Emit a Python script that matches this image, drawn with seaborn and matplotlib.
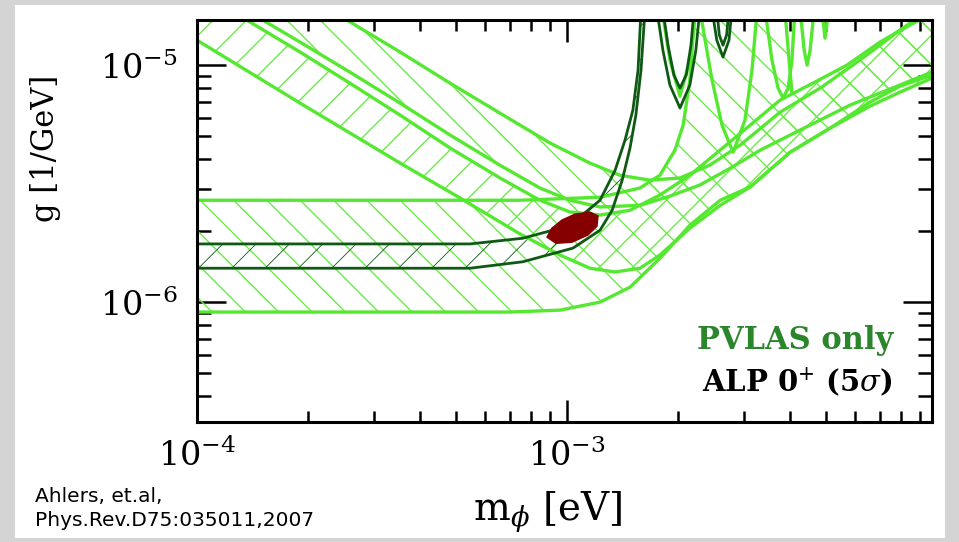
import numpy as np
import pandas as pd
import matplotlib
matplotlib.use("Agg")
import matplotlib.pyplot as plt
import seaborn as sns
from matplotlib.patches import Rectangle
from matplotlib.ticker import NullFormatter, LogLocator

# ---------------- data (m in eV, g in 1/GeV) ----------------
# rotation band (hatched "\")
rot_lo_m = [1.0e-4, 7.01e-4, 9.57e-4, 1.228e-3, 1.48e-3, 1.783e-3, 2.148e-3, 2.594e-3,
            3.126e-3, 4.01e-3, 5.14e-3, 6.59e-3, 7.94e-3, 9.69e-3]
rot_lo_g = [9.08e-7, 9.08e-7, 9.25e-7, 1.0e-6, 1.156e-6, 1.53e-6, 2.11e-6, 2.69e-6,
            3.06e-6, 4.29e-6, 5.42e-6, 6.98e-6, 8.15e-6, 9.08e-6]
rot_up_m = [1.0e-4, 7.46e-4, 1.228e-3, 1.575e-3, 1.783e-3, 1.958e-3, 2.06e-3, 2.148e-3, 2.218e-3]
rot_up_g = [2.69e-6, 2.69e-6, 2.77e-6, 3.03e-6, 3.43e-6, 4.38e-6, 5.58e-6, 8.65e-6, 1.7e-5]
rot_hi_m = [3.88e-3, 4.055e-3]
rot_hi_g = [1.7e-5, 7.6e-6]

# ellipticity band (hatched "/")
ell_lo_m = [1.0e-4, 1.90e-4, 3.54e-4, 5.14e-4, 7.46e-4, 9.57e-4, 1.153e-3, 1.349e-3, 1.575e-3,
            1.783e-3, 2.148e-3, 2.594e-3, 3.126e-3, 4.01e-3, 5.14e-3, 6.59e-3, 7.94e-3, 9.69e-3]
ell_lo_g = [1.274e-5, 6.91e-6, 3.86e-6, 2.75e-6, 1.94e-6, 1.58e-6, 1.39e-6, 1.34e-6, 1.39e-6,
            1.58e-6, 2.05e-6, 2.56e-6, 3.06e-6, 4.29e-6, 5.42e-6, 6.71e-6, 7.69e-6, 8.81e-6]
ell_up_m = [1.0e-4, 1.90e-4, 2.59e-4, 3.54e-4, 4.83e-4, 6.59e-4, 8.45e-4, 1.019e-3, 1.228e-3,
            1.48e-3, 1.783e-3, 2.148e-3, 2.594e-3, 3.126e-3, 3.767e-3, 4.68e-3, 5.71e-3,
            7.01e-3, 7.80e-3, 9.69e-3]
ell_up_g = [2.07e-5, 1.135e-5, 8.39e-6, 6.15e-6, 4.47e-6, 3.34e-6, 2.69e-6, 2.40e-6, 2.33e-6,
            2.44e-6, 2.83e-6, 3.43e-6, 4.38e-6, 5.58e-6, 7.12e-6, 8.48e-6, 1.0e-5,
            1.25e-5, 1.377e-5, 1.66e-5]

# second diagonal band (hatched "\")
b3_lo_m = [1.0e-4, 1.90e-4, 2.59e-4, 3.54e-4, 4.83e-4, 6.59e-4, 8.45e-4, 1.019e-3, 1.228e-3,
           1.575e-3, 1.897e-3, 2.286e-3, 2.76e-3, 3.33e-3, 4.266e-3, 5.82e-3, 7.94e-3, 9.69e-3]
b3_lo_g = [2.26e-5, 1.25e-5, 9.34e-6, 6.91e-6, 5.07e-6, 3.78e-6, 3.03e-6, 2.69e-6, 2.52e-6,
           2.56e-6, 2.80e-6, 3.12e-6, 3.67e-6, 4.38e-6, 5.32e-6, 6.78e-6, 8.24e-6, 9.34e-6]
b3_up_m = [1.0e-4, 3.54e-4, 4.83e-4, 6.59e-4, 9.0e-4, 1.153e-3, 1.39e-3, 1.675e-3, 2.02e-3,
           2.43e-3, 2.94e-3, 3.767e-3, 4.83e-3, 6.19e-3, 7.94e-3, 9.69e-3]
b3_up_g = [3.72e-5, 1.135e-5, 8.39e-6, 6.27e-6, 4.69e-6, 3.86e-6, 3.43e-6, 3.27e-6, 3.34e-6,
           3.78e-6, 4.6e-6, 6.33e-6, 7.99e-6, 1.05e-5, 1.405e-5, 1.74e-5]

# light green resonance dips
dip1_m = [2.286e-3, 2.466e-3, 2.624e-3, 2.81e-3, 3.027e-3, 3.162e-3, 3.265e-3]
dip1_g = [1.71e-5, 8.65e-6, 5.58e-6, 4.29e-6, 5.86e-6, 9.52e-6, 1.71e-5]
dip2_m = [3.43e-3, 3.58e-3, 3.72e-3, 3.837e-3, 3.96e-3, 4.055e-3, 4.13e-3]
dip2_g = [1.71e-5, 1.05e-5, 7.99e-6, 7.26e-6, 7.99e-6, 1.05e-5, 1.71e-5]
dip3_m = [4.266e-3, 4.375e-3, 4.455e-3, 4.54e-3, 4.655e-3]
dip3_g = [1.71e-5, 1.157e-5, 1.0e-5, 1.157e-5, 1.71e-5]
dip4_m = [4.89e-3, 4.98e-3, 5.1e-3]
dip4_g = [1.71e-5, 1.30e-5, 1.71e-5]
dip0_m = [1.807e-3, 1.897e-3, 2.02e-3, 2.148e-3, 2.23e-3]
dip0_g = [1.71e-5, 1.05e-5, 7.40e-6, 1.05e-5, 1.71e-5]

# ALP 0+ (5 sigma) band (dark green)
alp_up_m = [1.0e-4, 5.47e-4, 7.60e-4, 9.57e-4, 1.084e-3, 1.228e-3, 1.349e-3, 1.435e-3,
            1.507e-3, 1.556e-3, 1.585e-3]
alp_up_g = [1.76e-6, 1.76e-6, 1.86e-6, 2.05e-6, 2.29e-6, 2.69e-6, 3.60e-6, 4.83e-6,
            6.46e-6, 9.52e-6, 1.71e-5]
alp_lo_m = [1.0e-4, 5.47e-4, 7.60e-4, 1.038e-3, 1.228e-3, 1.324e-3, 1.41e-3, 1.48e-3,
            1.535e-3, 1.585e-3, 1.625e-3]
alp_lo_g = [1.39e-6, 1.39e-6, 1.48e-6, 1.69e-6, 2.01e-6, 2.44e-6, 3.27e-6, 4.47e-6,
            6.15e-6, 9.52e-6, 1.71e-5]
adip1o_m = [1.75e-3, 1.816e-3, 1.897e-3, 2.02e-3, 2.148e-3, 2.23e-3, 2.286e-3]
adip1o_g = [1.71e-5, 1.157e-5, 8.24e-6, 6.59e-6, 8.24e-6, 1.157e-5, 1.71e-5]
adip1i_m = [1.816e-3, 1.875e-3, 1.945e-3, 2.02e-3, 2.10e-3, 2.163e-3, 2.204e-3]
adip1i_g = [1.71e-5, 1.213e-5, 9.08e-6, 7.99e-6, 9.08e-6, 1.213e-5, 1.71e-5]
adip2o_m = [2.466e-3, 2.54e-3, 2.64e-3, 2.74e-3, 2.79e-3]
adip2o_g = [1.71e-5, 1.274e-5, 1.081e-5, 1.274e-5, 1.71e-5]
adip2i_m = [2.54e-3, 2.58e-3, 2.64e-3, 2.70e-3, 2.74e-3]
adip2i_g = [1.71e-5, 1.34e-5, 1.213e-5, 1.34e-5, 1.71e-5]

# best fit region (red)
best_m = [8.83e-4, 9.10e-4, 9.69e-4, 1.05e-3, 1.153e-3, 1.213e-3, 1.205e-3, 1.14e-3, 1.032e-3, 9.34e-4]
best_g = [1.88e-6, 2.05e-6, 2.22e-6, 2.35e-6, 2.40e-6, 2.31e-6, 2.09e-6, 1.92e-6, 1.79e-6, 1.77e-6]

x_range = [1.0e-4, 9.69e-3]
y_range = [3.12e-7, 1.55e-5]

# ---------------- style ----------------
sns.set_theme(style="white")
plt.rcParams["font.family"] = ["DejaVu Serif", "DejaVu Sans"]
plt.rcParams["mathtext.fontset"] = "dejavuserif"
plt.rcParams["text.color"] = "black"

LG = "#55e830"
LGH = "#6aec48"
DG = "#0e5a14"
RED = "#860000"
PVG = "#2b862b"

fig = plt.figure(figsize=(9.59, 5.42), dpi=100)
fig.patch.set_facecolor("#d4d4d4")
bg = Rectangle((0.0156, 0.0074), 0.970, 0.983, transform=fig.transFigure,
               facecolor="white", edgecolor="none", zorder=-10)
fig.patches.append(bg)
ax = fig.add_axes([0.2054, 0.2214, 0.7664, 0.7417])
ax.set_zorder(1)
ax.set_facecolor("white")
ax.set_xscale("log")
ax.set_yscale("log")


def hatch_poly(xl, yl, xu, yu, hatch, color, hlw):
    plt.rcParams["hatch.linewidth"] = hlw
    plt.rcParams["hatch.color"] = color
    xs = np.concatenate([np.asarray(xl), np.asarray(xu)[::-1]])
    ys = np.concatenate([np.asarray(yl), np.asarray(yu)[::-1]])
    p = ax.fill(xs, ys, facecolor="none", edgecolor=color, hatch=hatch, linewidth=0, zorder=1)[0]
    if hasattr(p, "set_hatch_linewidth"):
        p.set_hatch_linewidth(hlw)
    return p


def line(xv, yv, color, lw, z=3):
    df = pd.DataFrame({"m": xv, "g": yv})
    sns.lineplot(data=df, x="m", y="g", ax=ax, color=color, linewidth=lw,
                 estimator=None, sort=False, legend=False, zorder=z)


# hatched regions
rot_upper_m = rot_up_m + rot_hi_m + [m for m in ell_up_m if m > 4.1e-3]
rot_upper_g = rot_up_g + rot_hi_g + [g for m, g in zip(ell_up_m, ell_up_g) if m > 4.1e-3]
hatch_poly(rot_lo_m, rot_lo_g, rot_upper_m, rot_upper_g, "\\", LGH, 1.0)
hatch_poly(ell_lo_m, ell_lo_g, ell_up_m, ell_up_g, "/", LGH, 1.0)
hatch_poly(b3_lo_m, b3_lo_g, b3_up_m, b3_up_g, "\\", LGH, 1.0)
hatch_poly(alp_lo_m, alp_lo_g, alp_up_m, alp_up_g, "/", DG, 0.6)

# light green boundaries
for xv, yv in [(rot_lo_m, rot_lo_g), (rot_up_m, rot_up_g), (rot_hi_m, rot_hi_g),
               (ell_lo_m, ell_lo_g), (ell_up_m, ell_up_g),
               (b3_lo_m, b3_lo_g), (b3_up_m, b3_up_g),
               (dip0_m, dip0_g), (dip1_m, dip1_g), (dip2_m, dip2_g),
               (dip3_m, dip3_g), (dip4_m, dip4_g)]:
    line(xv, yv, LG, 2.4, 3)

# dark green ALP lines
for xv, yv in [(alp_up_m, alp_up_g), (alp_lo_m, alp_lo_g),
               (adip1o_m, adip1o_g), (adip1i_m, adip1i_g),
               (adip2o_m, adip2o_g), (adip2i_m, adip2i_g)]:
    line(xv, yv, DG, 2.0, 4)

ax.fill(best_m, best_g, facecolor=RED, edgecolor=RED, linewidth=1, zorder=5)

ax.set_xlim(*x_range)
ax.set_ylim(*y_range)
ax.set_xlabel("")
ax.set_ylabel("")

# axes decoration
for s in ax.spines.values():
    s.set_visible(True)
    s.set_linewidth(2.2)
    s.set_color("black")
    s.set_zorder(10)
ax.xaxis.set_major_locator(LogLocator(base=10))
ax.yaxis.set_major_locator(LogLocator(base=10))
ax.xaxis.set_minor_locator(LogLocator(base=10, subs=np.arange(2, 10)))
ax.yaxis.set_minor_locator(LogLocator(base=10, subs=np.arange(2, 10)))
ax.xaxis.set_minor_formatter(NullFormatter())
ax.yaxis.set_minor_formatter(NullFormatter())
ax.tick_params(which="both", direction="in", top=True, right=True, bottom=True, left=True,
               color="black", width=1.8, labelsize=24, labelcolor="black")
ax.tick_params(axis="x", which="major", length=16, pad=12)
ax.tick_params(axis="x", which="minor", length=8)
ax.tick_params(axis="y", which="major", length=21, pad=14)
ax.tick_params(axis="y", which="minor", length=10)
ax.grid(False)

# texts
fig.text(548 / 959, 1 - 512 / 542, r"m$_\phi$ [eV]", ha="center", va="center", fontsize=28)
fig.text(46 / 959, 1 - 148 / 542, "g [1/GeV]", rotation=90, ha="center", va="center", fontsize=22)
fig.text(893 / 959, 1 - 340 / 542, "PVLAS only", ha="right", va="center",
         fontsize=22, fontweight="bold", color=PVG)
fig.text(893 / 959, 1 - 382 / 542, r"ALP 0$^{+}$ (5$\sigma$)", ha="right", va="center",
         fontsize=21, fontweight="bold", color="black")
fig.text(35 / 959, 1 - 497 / 542, "Ahlers, et.al,", ha="left", va="center",
         fontsize=14.5, family=["DejaVu Sans"])
fig.text(35 / 959, 1 - 521 / 542, "Phys.Rev.D75:035011,2007", ha="left", va="center",
         fontsize=14.5, family=["DejaVu Sans"])

fig.savefig("out.png", dpi=100, facecolor=fig.get_facecolor())
